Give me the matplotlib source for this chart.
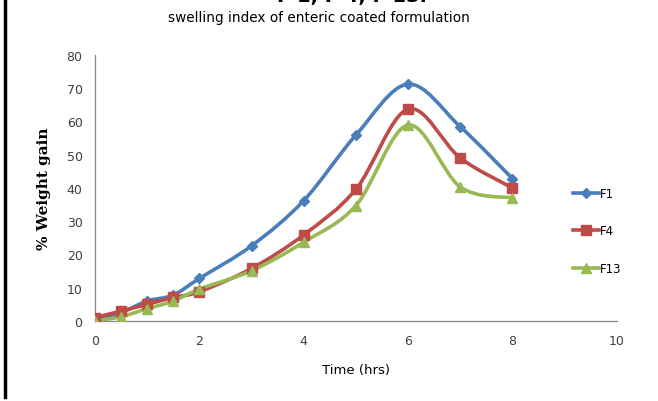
import numpy as np
import matplotlib
matplotlib.use('Agg')
import matplotlib.pyplot as plt
from matplotlib.path import Path
from matplotlib.patches import PathPatch
from matplotlib.lines import Line2D

# ── data ────────────────────────────────────────────────────────────────────
TIME = [0, 0.5, 1, 1.5, 2, 3, 4, 5, 6, 7, 8]
F1   = [0.0, 2.5, 6.0, 7.8, 12.8, 22.6, 36.2, 55.9, 71.2, 58.4, 42.8]
F4   = [1.0, 3.0, 5.0, 7.1, 8.8, 15.8, 25.9, 39.6, 63.7, 49.0, 40.0]
F13  = [0.0, 1.3, 3.7, 6.0, 9.6, 15.1, 23.7, 34.7, 58.9, 40.3, 37.0]

NAMES   = ['F1', 'F4', 'F13']
SERIES  = [F1, F4, F13]
COLORS  = ['#4A7EBB', '#BE4B48', '#98B954']
MARKERS = ['D', 's', '^']
MSIZES  = [5, 7, 7]


def smooth_path(x, y):
    # Excel-style smoothed line: cubic Bezier through every point
    pts = np.column_stack([x, y]).astype(float)
    n = len(pts)
    verts = [pts[0]]
    codes = [Path.MOVETO]
    for i in range(n - 1):
        p0 = pts[i - 1] if i > 0 else pts[i]
        p1, p2 = pts[i], pts[i + 1]
        p3 = pts[i + 2] if i + 2 < n else pts[i + 1]
        c1 = p1 + (p2 - p0) / 6.0
        c2 = p2 - (p3 - p1) / 6.0
        verts += [c1, c2, p2]
        codes += [Path.CURVE4] * 3
    return Path(verts, codes)


fig = plt.figure(figsize=(6.58, 4.02), dpi=100)
ax = fig.add_axes([0.1444, 0.199, 0.793, 0.662])

for name, ys, c, m, ms in zip(NAMES, SERIES, COLORS, MARKERS, MSIZES):
    ax.add_patch(PathPatch(smooth_path(TIME, ys), facecolor='none',
                           edgecolor=c, linewidth=2.6, zorder=2,
                           capstyle='round', joinstyle='round'))
    ax.plot(TIME, ys, linestyle='none', marker=m, markersize=ms,
            color=c, zorder=3)

ax.set_xlim(0, 10)
ax.set_ylim(0, 80)
ax.set_xticks(range(0, 11, 2))
ax.set_yticks(range(0, 81, 10))
ax.tick_params(length=0, labelsize=9, labelcolor='#404040', pad=9)
for s in ['top', 'right']:
    ax.spines[s].set_visible(False)
for s in ['left', 'bottom']:
    ax.spines[s].set_color('#888888')
    ax.spines[s].set_linewidth(0.9)
ax.set_xlabel('Time (hrs)', fontsize=9.5, labelpad=12)
ax.set_ylabel('% Weight gain', fontsize=11, fontweight='bold',
              family='DejaVu Serif')
ax.yaxis.set_label_coords(-0.085, 0.5)

handles = [Line2D([], [], color=c, marker=m, markersize=ms, linewidth=2.6)
           for c, m, ms in zip(COLORS, MARKERS, MSIZES)]
fig.legend(handles, NAMES, loc='center left',
           bbox_to_anchor=(0.855, 0.423), frameon=False,
           fontsize=8.5, handlelength=2.2, handletextpad=0.1,
           labelspacing=2.1)

fig.text(0.485, 0.955, 'swelling index of enteric coated formulation',
         ha='center', va='center', fontsize=9.8)
# heading of the page above, cut off by the crop as in the reference
fig.text(0.535, 0.994, 'F 1, F 4, F 13.', ha='center', va='baseline',
         fontsize=14, fontweight='bold')

# black border on the left edge of the cropped figure
fig.add_artist(Line2D([0.008, 0.008], [0.01, 1.0], color='black',
                      linewidth=2.5, transform=fig.transFigure))

fig.savefig('out.png', dpi=100)
